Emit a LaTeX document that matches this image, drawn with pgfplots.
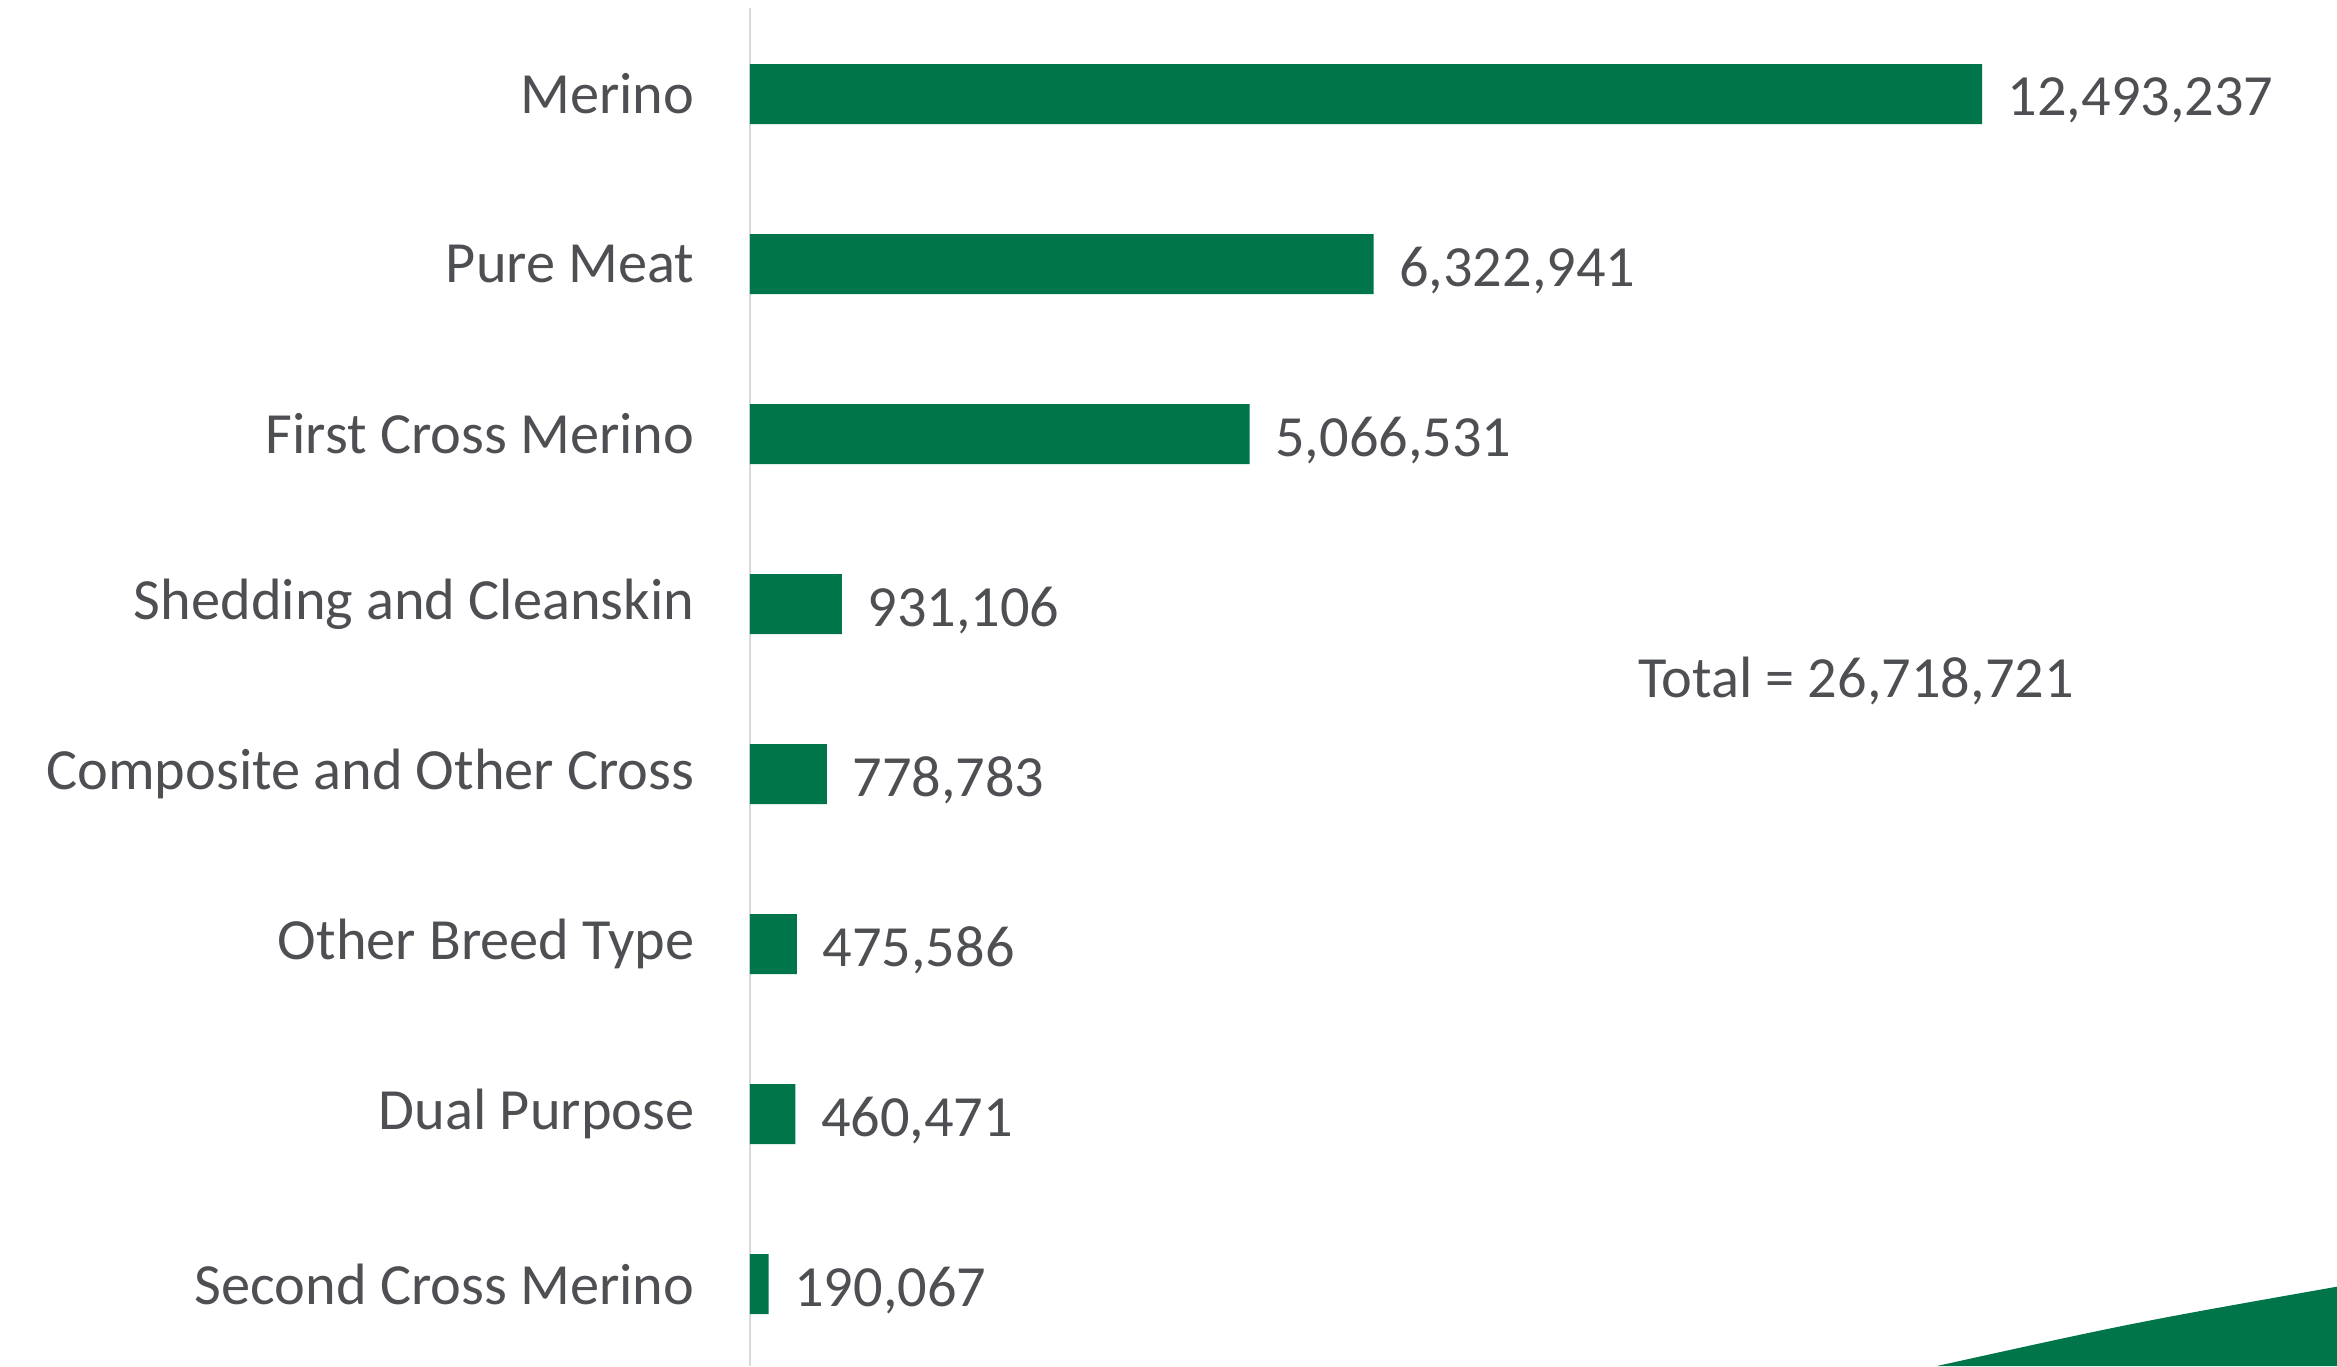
\documentclass[border=0pt]{standalone}
\usepackage{fontspec}
\setmainfont{Carlito}
\usepackage{pgfplots}
\usepackage{pgfplotstable}
\pgfplotsset{compat=1.18}
\definecolor{bargreen}{HTML}{00754A}
\definecolor{txtgrey}{HTML}{4D4F53}
\definecolor{axgrey}{HTML}{D9D9D9}
\pgfplotstableread{
y x label
0 12493237 12,493,237
1 6322941 6,322,941
2 5066531 5,066,531
3 931106 931,106
4 778783 778,783
5 475586 475,586
6 460471 460,471
7 190067 190,067
}\breeddata
\begin{document}
\begin{tikzpicture}
\path[use as bounding box] (0,0) rectangle (701.1pt,409.8pt);
\fill[bargreen] (581.1pt,0pt) .. controls (640pt,13pt) .. (701.1pt,23.8pt) -- (701.1pt,0pt) -- cycle;
\begin{axis}[
  at={(225pt,0pt)}, anchor=south west,
  scale only axis, width=476.1pt, height=407.4pt,
  xmin=0, xmax=16093000,
  ymin=-0.506, ymax=7.482, y dir=reverse,
  axis x line=none, axis y line*=left,
  y axis line style={draw=axgrey, line width=0.6pt, -},
  ytick={0,...,7},
  yticklabels={Merino,Pure Meat,First Cross Merino,Shedding and Cleanskin,Composite and Other Cross,Other Breed Type,Dual Purpose,Second Cross Merino},
  major tick length=0pt,
  yticklabel style={font=\fontsize{17.5}{21}\selectfont, text=txtgrey, inner sep=0pt, xshift=-16.5pt},
  xbar, bar width=18pt,
  point meta=explicit symbolic,
  nodes near coords,
  every node near coord/.append style={font=\fontsize{17.5}{21}\selectfont, text=txtgrey, anchor=west, inner sep=0pt, xshift=7.5pt, yshift=-2pt},
  clip=false,
]
\addplot[fill=bargreen, draw=none] table[x=x, y=y, meta=label] {\breeddata};
\node[font=\fontsize{17.5}{21}\selectfont, text=txtgrey] at (axis cs:11216000,3.453) {Total = 26,718,721};
\end{axis}
\end{tikzpicture}
\end{document}
